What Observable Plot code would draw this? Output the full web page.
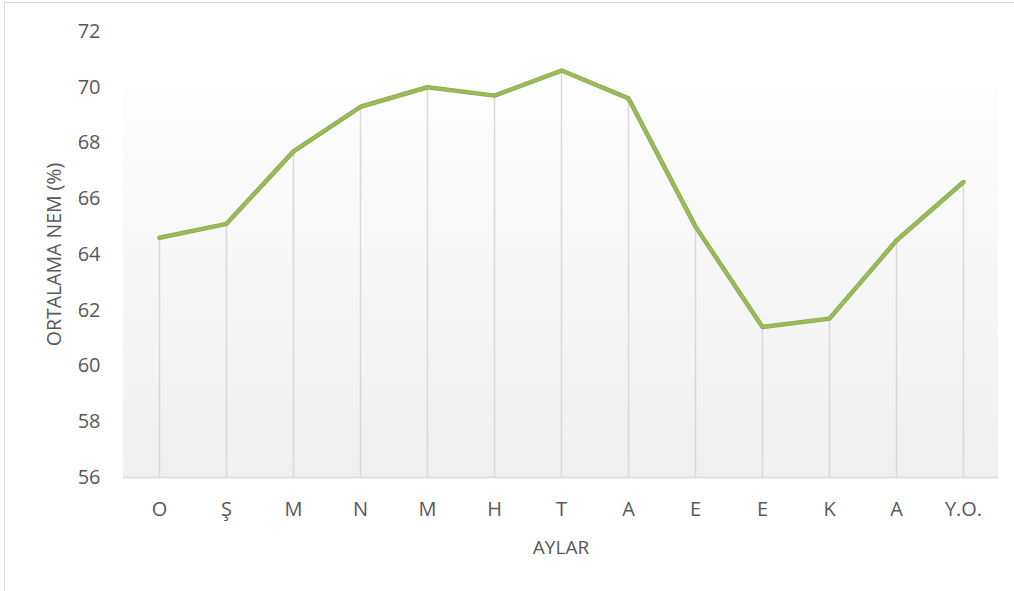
<!DOCTYPE html>
<html>
<head>
<meta charset="utf-8">
<script src="https://cdn.jsdelivr.net/npm/d3@7"></script>
<script src="https://cdn.jsdelivr.net/npm/@observablehq/plot@0.6"></script>
<style>
  body { margin: 0; background: #fff; }
  #wrap { position: relative; width: 1014px; height: 591px; overflow: hidden; }
  #border { position: absolute; left: 4px; top: 2px; width: 1100px; height: 700px; border-left: 1px solid #d9d9d9; border-top: 1px solid #d9d9d9; }
  #chart { position: absolute; left: 0; top: 0; }
</style>
</head>
<body>
<div id="wrap"><div id="border"></div><div id="chart"></div></div>
<script>
const months = ["O", "Ş", "M", "N", "M", "H", "T", "A", "E", "E", "K", "A", "Y.O."];
const humidity = [64.6, 65.1, 67.7, 69.3, 70.0, 69.7, 70.6, 69.6, 65.0, 61.4, 61.7, 64.5, 66.6];
const yTicks = [56, 58, 60, 62, 64, 66, 68, 70, 72];
const yLabel = "ORTALAMA NEM (%)";
const xLabel = "AYLAR";

const data = months.map((m, i) => ({i, m, v: humidity[i]}));
const font = "'Open Sans', Lato, sans-serif";

const chart = Plot.plot({
  width: 1014,
  height: 591,
  marginLeft: 123,
  marginRight: 16,
  marginTop: 31,
  marginBottom: 114,
  style: {fontFamily: font, fontSize: "20px", color: "#595959", background: "transparent"},
  x: {type: "point", domain: d3.range(months.length), padding: 0.5},
  y: {domain: [56, 72]},
  marks: [
    Plot.rect([0], {y1: 56, y2: 72, fill: "url(#bggrad)"}),
    Plot.ruleX(data, {x: "i", y1: 56, y2: "v", stroke: "#d9d9d9", strokeWidth: 1.5}),
    Plot.ruleY([56], {stroke: "#d9d9d9", strokeWidth: 1.5}),
    Plot.axisY({ticks: yTicks, tickSize: 0, tickPadding: 23, label: null, fill: "#595959"}),
    Plot.axisX({tickSize: 0, tickPadding: 24, tickFormat: i => months[i], label: null, fill: "#595959"}),
    Plot.line(data, {x: "i", y: "v", stroke: "#8aa84c", strokeWidth: 4.5, strokeLinejoin: "round"}),
    Plot.line(data, {x: "i", y: "v", stroke: "#9bbb59", strokeWidth: 3, strokeLinejoin: "round"}),
    Plot.text([yLabel], {frameAnchor: "left", textAnchor: "middle", lineAnchor: "middle", dx: -69, rotate: -90, fill: "#595959", fontSize: 19.5}),
    Plot.text([xLabel], {frameAnchor: "bottom", textAnchor: "middle", dy: 76, fill: "#595959", fontSize: 19})
  ]
});

const svg = d3.select(chart);
const defs = svg.insert("defs", ":first-child");
const g = defs.append("linearGradient").attr("id", "bggrad").attr("x1", 0).attr("y1", 0).attr("x2", 0).attr("y2", 1);
g.append("stop").attr("offset", "0").attr("stop-color", "#ffffff");
g.append("stop").attr("offset", "0.12").attr("stop-color", "#ffffff");
g.append("stop").attr("offset", "0.13").attr("stop-color", "#fdfdfd");
g.append("stop").attr("offset", "1").attr("stop-color", "#f0f0f0");

document.getElementById("chart").appendChild(chart);
</script>
</body>
</html>
